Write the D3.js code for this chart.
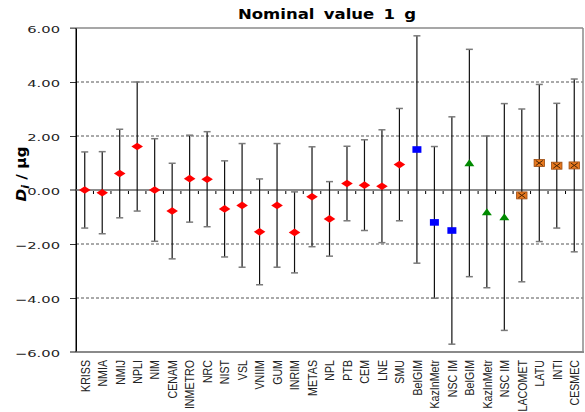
<!DOCTYPE html>
<html>
<head>
<meta charset="utf-8">
<script src="https://cdn.jsdelivr.net/npm/d3@7"></script>
<style>
  html, body { margin: 0; padding: 0; background: #fff; }
  svg { display: block; }
</style>
</head>
<body>
<svg id="chart" width="585" height="412"></svg>
<script>
// ---- data ----
const labels = ["KRISS","NMIA","NMIJ","NPLI","NIM","CENAM","INMETRO","NRC","NIST","VSL","VNIIM","GUM","INRIM","METAS","NPL","PTB","CEM","LNE","SMU","BelGIM","KazInMetr","NSC IM","BelGIM","KazInMetr","NSC IM","LACOMET","LATU","INTI","CESMEC"];
const dValues = [0.00,-0.10,0.61,1.61,0.00,-0.78,0.42,0.40,-0.70,-0.57,-1.55,-0.57,-1.57,-0.25,-1.07,0.24,0.18,0.14,0.94,1.50,-1.20,-1.50,1.00,-0.81,-1.00,-0.20,1.00,0.90,0.91];
const uValues = [1.41,1.52,1.64,2.39,1.90,1.77,1.61,1.76,1.78,2.29,1.96,2.29,1.50,1.85,1.38,1.38,1.68,2.09,2.08,4.21,2.81,4.21,4.21,2.81,4.20,3.20,2.91,2.31,3.20];
const markerTypes = ["diamond","diamond","diamond","diamond","diamond","diamond","diamond","diamond","diamond","diamond","diamond","diamond","diamond","diamond","diamond","diamond","diamond","diamond","diamond","square","square","square","triangle","triangle","triangle","cross","cross","cross","cross"];
const yTicks = [-6,-4,-2,0,2,4,6];
const titleText = "Nominal value 1 g";

// ---- layout ----
const svg = d3.select("#chart");
const pLeft = 76, pRight = 583, pTop = 28, pBottom = 352;

const x = d3.scaleBand().domain(d3.range(labels.length)).range([pLeft, pRight]).padding(0);
const y = d3.scaleLinear().domain([-6, 6]).range([pBottom, pTop]);

// grid lines (dashed) at non-zero interior ticks
svg.append("g").selectAll("line")
  .data(yTicks.filter(d => d !== 0 && Math.abs(d) !== 6))
  .join("line")
  .attr("x1", pLeft).attr("x2", pRight)
  .attr("y1", d => y(d)).attr("y2", d => y(d))
  .attr("stroke", "#555").attr("stroke-width", 1)
  .attr("stroke-dasharray", "3,2");

// y axis via d3.axisLeft
const yAxis = svg.append("g")
  .attr("transform", `translate(${pLeft},0)`)
  .call(d3.axisLeft(y).tickValues(yTicks).tickSize(6).tickSizeOuter(0).tickFormat(d3.format(".2f")));
yAxis.select(".domain").attr("stroke", "#000").attr("stroke-width", 1);
yAxis.selectAll(".tick line").attr("stroke", "#333");
yAxis.selectAll(".tick text")
  .attr("x", -16 / 1.55)
  .attr("dy", "0.42em")
  .attr("transform", "scale(1.55,1)")
  .attr("fill", "#222")
  .style("font-family", "DejaVu Sans, Verdana, sans-serif")
  .style("font-size", "9.5px");

// frame: top, right, bottom (gray)
svg.append("line").attr("x1", pLeft - 6).attr("x2", pRight).attr("y1", y(6)).attr("y2", y(6))
  .attr("stroke", "#8a8a8a").attr("stroke-width", 1.5);
svg.append("line").attr("x1", pRight).attr("x2", pRight).attr("y1", y(6)).attr("y2", y(-6))
  .attr("stroke", "#8a8a8a").attr("stroke-width", 1.5);
svg.append("line").attr("x1", pLeft - 6).attr("x2", pRight + 1).attr("y1", y(-6)).attr("y2", y(-6))
  .attr("stroke", "#8a8a8a").attr("stroke-width", 2);

// zero line
svg.append("line").attr("x1", pLeft - 6).attr("x2", pRight).attr("y1", y(0)).attr("y2", y(0))
  .attr("stroke", "#8c8c8c").attr("stroke-width", 2);

// category ticks on zero line
svg.append("g").selectAll("line")
  .data(d3.range(1, labels.length))
  .join("line")
  .attr("x1", d => x(d)).attr("x2", d => x(d))
  .attr("y1", y(0) + 1).attr("y2", y(0) + 4)
  .attr("stroke", "#000").attr("stroke-width", 1);

// left axis line on top
svg.append("line").attr("x1", pLeft).attr("x2", pLeft).attr("y1", y(6)).attr("y2", y(-6))
  .attr("stroke", "#000").attr("stroke-width", 1);

// error bars
const cx = i => x(i) + x.bandwidth() / 2;
const bars = svg.append("g").selectAll("g").data(labels.map((l, i) => i)).join("g");
bars.append("line")
  .attr("x1", cx).attr("x2", cx)
  .attr("y1", i => y(dValues[i] + uValues[i]))
  .attr("y2", i => y(dValues[i] - uValues[i]))
  .attr("stroke", "#111").attr("stroke-width", 1.2);
[1, -1].forEach(s => {
  bars.append("line")
    .attr("x1", i => cx(i) - 3.5).attr("x2", i => cx(i) + 3.5)
    .attr("y1", i => y(dValues[i] + s * uValues[i]))
    .attr("y2", i => y(dValues[i] + s * uValues[i]))
    .attr("stroke", "#7a7a7a").attr("stroke-width", 1.5);
});

// markers
bars.each(function(i) {
  const g = d3.select(this);
  const px = cx(i), py = y(dValues[i]);
  const t = markerTypes[i];
  if (t === "diamond") {
    g.append("path").attr("d", `M${px - 5.8},${py} L${px},${py - 3.8} L${px + 5.8},${py} L${px},${py + 3.8} Z`)
      .attr("fill", "#ff0000");
  } else if (t === "square") {
    g.append("rect").attr("x", px - 4.5).attr("y", py - 3.3).attr("width", 9).attr("height", 6.6)
      .attr("fill", "#0000ff");
  } else if (t === "triangle") {
    g.append("path").attr("d", `M${px - 5},${py + 3.3} L${px},${py - 3.7} L${px + 5},${py + 3.3} Z`)
      .attr("fill", "#008a00");
  } else {
    g.append("rect").attr("x", px - 5.2).attr("y", py - 3.5).attr("width", 10.4).attr("height", 7)
      .attr("fill", "#e8791f").attr("stroke", "#9a4a10").attr("stroke-width", 0.8);
    g.append("path").attr("d", `M${px - 3.5},${py - 2.5} L${px + 3.5},${py + 2.5} M${px - 3.5},${py + 2.5} L${px + 3.5},${py - 2.5}`)
      .attr("stroke", "#4a2505").attr("stroke-width", 1);
  }
});

// x labels
svg.append("g").selectAll("text")
  .data(labels.map((l, i) => i))
  .join("text")
  .attr("transform", i => `translate(${cx(i) + 4.8},360) rotate(-90) scale(0.82,1)`)
  .attr("text-anchor", "end")
  .attr("fill", "#222")
  .style("font-family", "Liberation Sans, Arial, sans-serif")
  .style("font-size", "13px")
  .text(i => labels[i]);

// title
svg.append("text")
  .attr("transform", "translate(327,19) scale(1.18,1)")
  .attr("text-anchor", "middle")
  .style("font-family", "DejaVu Sans, Verdana, sans-serif")
  .style("font-size", "14px")
  .style("font-weight", "bold")
  .style("word-spacing", "3px")
  .attr("fill", "#000")
  .text(titleText);

// y axis title
const yt = svg.append("text")
  .attr("transform", "translate(26,174) rotate(-90) scale(1.1,1)")
  .attr("text-anchor", "middle")
  .style("font-family", "DejaVu Sans, Verdana, sans-serif")
  .style("font-size", "14px")
  .style("font-weight", "bold")
  .attr("fill", "#000");
yt.append("tspan").style("font-style", "italic").text("D");
yt.append("tspan").style("font-style", "italic").style("font-size", "10px").attr("dy", 3).text("i");
yt.append("tspan").attr("dy", -3).text(" / µg");
</script>
</body>
</html>
